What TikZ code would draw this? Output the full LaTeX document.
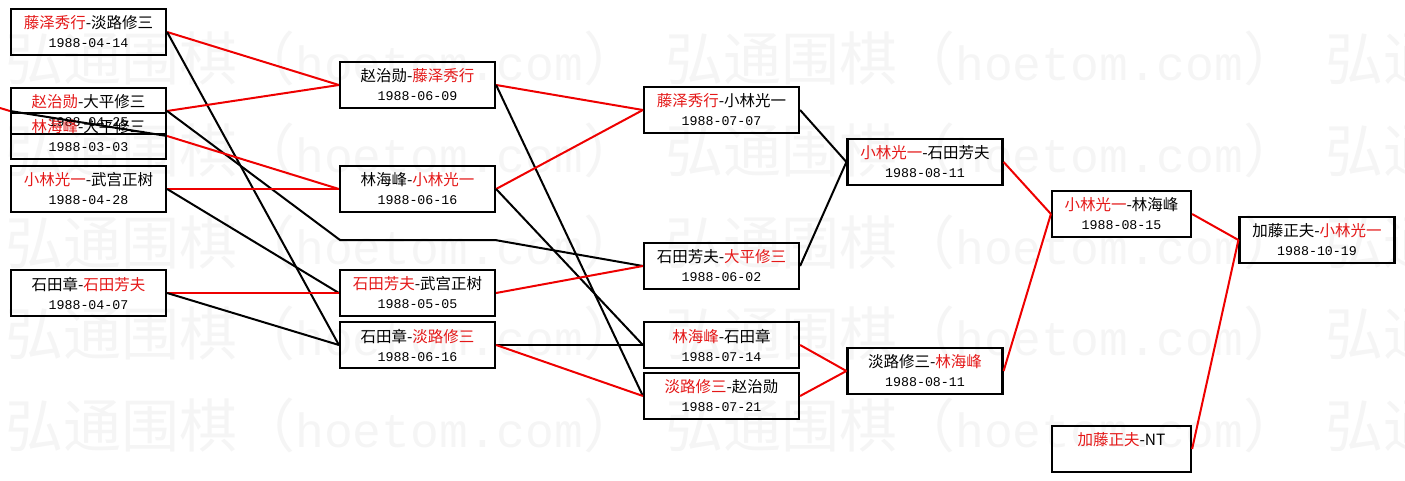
\documentclass[tikz,border=0pt]{standalone}
\usepackage{fontspec}
\usepackage{tikz}
\setmainfont{Liberation Serif}
\newfontfamily\cjk{Noto Sans CJK SC}
\newfontfamily\dtfont{Liberation Mono}
\definecolor{hred}{RGB}{228,24,24}
\definecolor{lred}{RGB}{238,0,0}
\newcommand{\wn}[1]{\textcolor{hred}{#1}}
\newcommand{\dt}[1]{{\dtfont\fontsize{13.3}{19}\selectfont #1}}

\begin{document}
\begin{tikzpicture}[x=1pt,y=-1pt,
  game/.style={draw,line width=2.2pt,minimum width=155pt,minimum height=46pt,
    inner sep=0pt,align=center,font=\cjk\fontsize{15.5}{19}\selectfont},
  win/.style={draw=lred,line width=2pt},
  lose/.style={draw=black,line width=2pt},
  wmark/.style={anchor=west,inner sep=0pt,text=black!4}]
  \useasboundingbox (0,0) rectangle (1405,481);
  % 水印
  \foreach \yy in {58,150,242,333,425}
    \foreach \xx in {5,665,1325}
      \node[wmark] (wm\xx-\yy) at (\xx,\yy)
        {\cjk\fontsize{58}{60}\selectfont 弘通围棋（{\dtfont\fontsize{48}{60}\selectfont hoetom.com}）};
  % 第一轮
  \node[game] (a1) at (88.5,32) {\wn{藤泽秀行}-淡路修三\\\dt{1988-04-14}};
  \node[game] (a2) at (88.5,111) {\wn{赵治勋}-大平修三\\\dt{1988-04-25}};
  \node[game] (a3) at (88.5,136) {\wn{林海峰}-大平修三\\\dt{1988-03-03}};
  \node[game] (a4) at (88.5,189) {\wn{小林光一}-武宫正树\\\dt{1988-04-28}};
  \node[game] (a5) at (88.5,293) {石田章-\wn{石田芳夫}\\\dt{1988-04-07}};
  % 第二轮
  \node[game] (b1) at (417.5,85) {赵治勋-\wn{藤泽秀行}\\\dt{1988-06-09}};
  \node[game] (b2) at (417.5,189) {林海峰-\wn{小林光一}\\\dt{1988-06-16}};
  \node[game] (b3) at (417.5,293) {\wn{石田芳夫}-武宫正树\\\dt{1988-05-05}};
  \node[game] (b4) at (417.5,345) {石田章-\wn{淡路修三}\\\dt{1988-06-16}};
  % 第三轮
  \node[game] (c1) at (721.5,110) {\wn{藤泽秀行}-小林光一\\\dt{1988-07-07}};
  \node[game] (c2) at (721.5,266) {石田芳夫-\wn{大平修三}\\\dt{1988-06-02}};
  \node[game] (c3) at (721.5,345) {\wn{林海峰}-石田章\\\dt{1988-07-14}};
  \node[game] (c4) at (721.5,396) {\wn{淡路修三}-赵治勋\\\dt{1988-07-21}};
  % 第四轮以后
  \node[game] (d1) at (925,162) {\wn{小林光一}-石田芳夫\\\dt{1988-08-11}};
  \node[game] (d2) at (925,371) {淡路修三-\wn{林海峰}\\\dt{1988-08-11}};
  \node[game,minimum width=139pt] (e1) at (1121.5,214) {\wn{小林光一}-林海峰\\\dt{1988-08-15}};
  \node[game,minimum width=139pt] (e2) at (1121.5,449) {\wn{加藤正夫}-NT\\\dt{\phantom{1988-00-00}}};
  \node[game] (f1) at (1317,240) {加藤正夫-\wn{小林光一}\\\dt{1988-10-19}};
  % 连线
  \coordinate (lx) at (0,108);
  \coordinate (g1) at (340,240);
  \coordinate (g2) at (495,240);
  \draw[win] (lx) -- (a2.west);
  \draw[lose] (a2.west) -- (a3.east);
  \draw[win] (a1.east) -- (b1.west);
  \draw[lose] (a1.east) -- (b4.west);
  \draw[win] (a2.east) -- (b1.west);
  \draw[lose] (a2.east) -- (g1) -- (g2) -- (c2.west);
  \draw[win] (a3.east) -- (b2.west);
  \draw[win] (a4.east) -- (b2.west);
  \draw[lose] (a4.east) -- (b3.west);
  \draw[win] (a5.east) -- (b3.west);
  \draw[lose] (a5.east) -- (b4.west);
  \draw[win] (b1.east) -- (c1.west);
  \draw[lose] (b1.east) -- (c4.west);
  \draw[win] (b2.east) -- (c1.west);
  \draw[lose] (b2.east) -- (c3.west);
  \draw[win] (b3.east) -- (c2.west);
  \draw[lose] (b4.east) -- (c3.west);
  \draw[win] (b4.east) -- (c4.west);
  \draw[lose] (c1.east) -- (d1.west);
  \draw[lose] (c2.east) -- (d1.west);
  \draw[win] (c3.east) -- (d2.west);
  \draw[win] (c4.east) -- (d2.west);
  \draw[win] (d1.east) -- (e1.west);
  \draw[win] (d2.east) -- (e1.west);
  \draw[win] (e1.east) -- (f1.west);
  \draw[win] (e2.east) -- (f1.west);
\end{tikzpicture}
\end{document}
